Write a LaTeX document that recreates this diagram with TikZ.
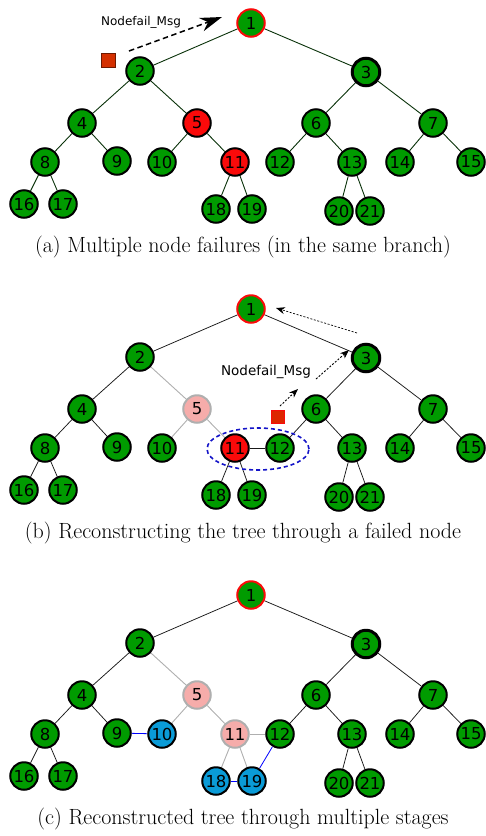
\documentclass[tikz,border=0pt]{standalone}
\usepackage{fontspec}
\newfontfamily\numfont{DejaVu Sans}
\usetikzlibrary{arrows.meta,shapes.geometric}
\pgfdeclarelayer{bg}
\pgfsetlayers{bg,main}

\definecolor{tgreen}{RGB}{0,155,0}
\definecolor{tred}{RGB}{250,10,10}
\definecolor{tpink}{RGB}{246,172,170}
\definecolor{tgray}{RGB}{175,175,175}
\definecolor{tblue}{RGB}{10,155,215}
\definecolor{edgegreen}{RGB}{10,50,10}
\definecolor{sqfill}{RGB}{212,48,0}
\definecolor{sqdark}{RGB}{110,25,0}
\definecolor{ellblue}{RGB}{20,20,200}

\tikzset{
  tn/.style={circle, draw=black, line width=2pt, fill=tgreen,
    minimum size=27.5pt, inner sep=0pt,
    font=\numfont\fontsize{16.5}{16}\selectfont},
  rootn/.style={draw=tred},
  thickn/.style={line width=3pt},
  failn/.style={fill=tred},
  deadn/.style={fill=tpink, draw=tgray},
  newn/.style={fill=tblue},
  % per-panel node looks
  st a1/.style={rootn}, st a3/.style={thickn}, st a5/.style={failn}, st a11/.style={failn},
  st b1/.style={rootn}, st b3/.style={thickn}, st b5/.style={deadn}, st b11/.style={failn},
  st c1/.style={rootn}, st c3/.style={thickn}, st c5/.style={deadn}, st c11/.style={deadn},
  st c10/.style={newn}, st c18/.style={newn}, st c19/.style={newn},
  % edges
  edge a/.style={draw=edgegreen, line width=0.9pt},
  edge b/.style={draw=black!90, line width=0.75pt},
  edge c/.style={draw=black!90, line width=0.75pt},
  gone/.style={draw=tgray, line width=0.9pt},
  repair/.style={draw=blue, line width=0.8pt},
  st b2-5/.style={gone}, st b5-10/.style={gone}, st b5-11/.style={gone},
  st c2-5/.style={gone}, st c5-10/.style={gone}, st c5-11/.style={gone},
  st c11-18/.style={gone}, st c11-19/.style={gone},
  msg/.style={font=\numfont\fontsize{12}{12}\selectfont},
  capt/.style={font=\fontsize{22}{24}\selectfont, anchor=center},
  sqbox/.style={rectangle, minimum size=14pt, inner sep=0pt},
  dotarrow/.style={line width=0.9pt, dash pattern=on 2pt off 1.6pt,
    -{Stealth[length=9pt,width=7pt]}},
}

\begin{document}
\begin{tikzpicture}[x=1pt,y=-1pt]
\useasboundingbox (0,0) rectangle (485,836);

% three copies of the tree, shifted downwards
\foreach \p/\dy in {a/0,b/286,c/572}{
  \foreach \n/\x/\y in {1/251/23, 2/140/71, 3/366/72, 4/82/123, 5/197/123,
      6/316/123, 7/433/123, 8/45/162, 9/117/161, 10/162/162, 11/235/162,
      12/280/162, 13/352/162, 14/400/162, 15/471/162, 16/24/204, 17/63/204,
      18/216/209, 19/252/209, 20/339/211, 21/370/211}{
    \node[tn, st \p\n/.try] (\p\n) at (\x,\y+\dy) {\n};
  }
  \begin{pgfonlayer}{bg}
  \foreach \u/\v in {1/2,1/3,2/4,2/5,3/6,3/7,4/8,4/9,5/10,5/11,6/12,6/13,
      7/14,7/15,8/16,8/17,11/18,11/19,13/20,13/21}{
    \draw[edge \p, st \p\u-\v/.try] (\p\u) -- (\p\v);
  }
  \end{pgfonlayer}
}

% extra links of the rebuilt trees
\begin{pgfonlayer}{bg}
  \draw[edge b] (b11) -- (b12);
  \draw[gone] (c11) -- (c12);
  \draw[repair] (c9) -- (c10);
  \draw[repair] (c18) -- (c19);
  \draw[repair] (c19) -- (c12);
\end{pgfonlayer}

% (a) failure message sent towards the root
\node[sqbox, fill=sqfill, draw=sqdark, line width=0.8pt] (sqa) at (108,60) {};
\coordinate (ma1) at (129,51);
\coordinate (ma2) at (222,17);
\draw[line width=1.5pt, dash pattern=on 5.5pt off 3.5pt,
      -{Stealth[length=22pt,width=14pt]}] (ma1) -- (ma2);
\node[msg] (txa) at (141,22) {Nodefail\_Msg};

% (b) failure message relayed through node 3
\node[sqbox, minimum size=13pt, fill=sqfill!80!red, draw=tred, line width=0.6pt] (sqb) at (278,417) {};
\node[msg, font=\numfont\fontsize{13.5}{14}\selectfont] (txb) at (266,372) {Nodefail\_Msg};
\coordinate (mb1) at (280,406);
\coordinate (mb2) at (298,389);
\coordinate (mb3) at (316,379);
\coordinate (mb4) at (349,350);
\draw[dotarrow] (mb1) -- (mb2);
\draw[dotarrow] (mb3) -- (mb4);
\coordinate (mb5) at (357,333);
\coordinate (mb6) at (276,308);
\draw[dotarrow, line width=0.7pt] (mb5) -- (mb6);
\node[ellipse, draw=ellblue, line width=1.6pt, dash pattern=on 4pt off 3pt,
      minimum width=102pt, minimum height=42pt, inner sep=0pt] (ell) at (258,449) {};

% captions
\node[capt] (capa) at (243,247) {(a) Multiple node failures (in the same branch)};
\node[capt] (capb) at (243,533) {(b) Reconstructing the tree through a failed node};
\node[capt] (capc) at (243,819) {(c) Reconstructed tree through multiple stages};
\end{tikzpicture}
\end{document}
